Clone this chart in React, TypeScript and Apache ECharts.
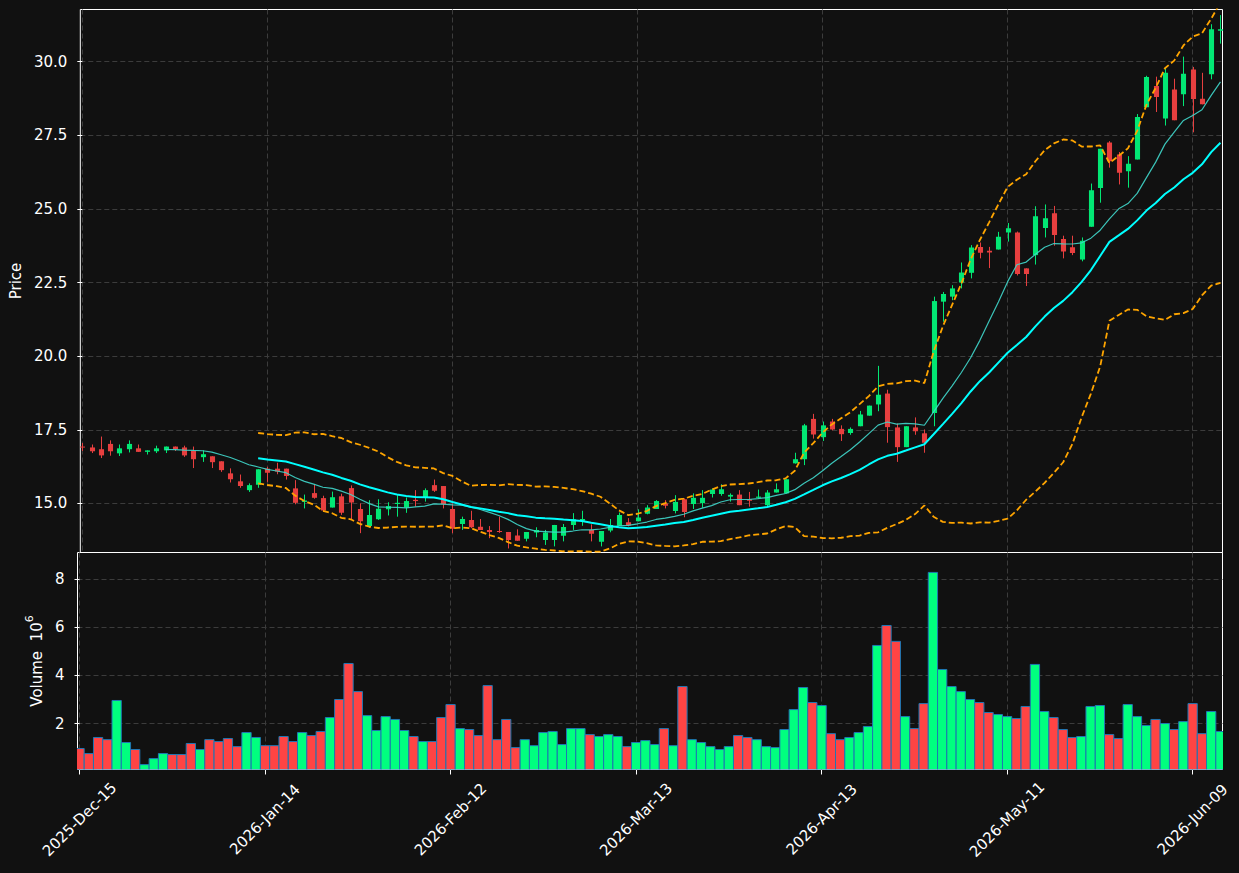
import React, { useEffect, useRef } from 'react';
import * as echarts from 'echarts';

// Trading days (NYSE calendar) shown on the x axis
const tradingDays: string[] = [
  '2025-12-15', '2025-12-16', '2025-12-17', '2025-12-18', '2025-12-19', '2025-12-22', '2025-12-23', '2025-12-24', '2025-12-26', '2025-12-29', '2025-12-30', '2025-12-31',
  '2026-01-02', '2026-01-05', '2026-01-06', '2026-01-07', '2026-01-08', '2026-01-09', '2026-01-12', '2026-01-13', '2026-01-14', '2026-01-15', '2026-01-16', '2026-01-20', '2026-01-21', '2026-01-22', '2026-01-23', '2026-01-26', '2026-01-27', '2026-01-28', '2026-01-29', '2026-01-30',
  '2026-02-02', '2026-02-03', '2026-02-04', '2026-02-05', '2026-02-06', '2026-02-09', '2026-02-10', '2026-02-11', '2026-02-12', '2026-02-13', '2026-02-17', '2026-02-18', '2026-02-19', '2026-02-20', '2026-02-23', '2026-02-24', '2026-02-25', '2026-02-26', '2026-02-27',
  '2026-03-02', '2026-03-03', '2026-03-04', '2026-03-05', '2026-03-06', '2026-03-09', '2026-03-10', '2026-03-11', '2026-03-12', '2026-03-13', '2026-03-16', '2026-03-17', '2026-03-18', '2026-03-19', '2026-03-20', '2026-03-23', '2026-03-24', '2026-03-25', '2026-03-26', '2026-03-27', '2026-03-30', '2026-03-31',
  '2026-04-01', '2026-04-02', '2026-04-06', '2026-04-07', '2026-04-08', '2026-04-09', '2026-04-10', '2026-04-13', '2026-04-14', '2026-04-15', '2026-04-16', '2026-04-17', '2026-04-20', '2026-04-21', '2026-04-22', '2026-04-23', '2026-04-24', '2026-04-27', '2026-04-28', '2026-04-29', '2026-04-30',
  '2026-05-01', '2026-05-04', '2026-05-05', '2026-05-06', '2026-05-07', '2026-05-08', '2026-05-11', '2026-05-12', '2026-05-13', '2026-05-14', '2026-05-15', '2026-05-18', '2026-05-19', '2026-05-20', '2026-05-21', '2026-05-22', '2026-05-26', '2026-05-27', '2026-05-28', '2026-05-29',
  '2026-06-01', '2026-06-02', '2026-06-03', '2026-06-04', '2026-06-05', '2026-06-08', '2026-06-09', '2026-06-10', '2026-06-11', '2026-06-12',
];

const openPrices: number[] = [
  16.93, 16.90, 16.84, 17.02, 16.70, 16.84, 16.87, 16.75, 16.77, 16.80,
  16.93, 16.90, 16.79, 16.57, 16.60, 16.43, 16.02, 15.75, 15.45, 15.63,
  16.18, 16.18, 16.18, 15.51, 15.05, 15.35, 15.18, 14.86, 15.24, 15.52,
  14.81, 14.23, 14.46, 14.80, 14.98, 14.86, 15.12, 15.20, 15.62, 15.59,
  14.81, 14.30, 14.44, 14.21, 14.10, 14.06, 14.03, 13.91, 13.80, 14.01,
  13.76, 13.76, 13.90, 14.27, 14.41, 14.10, 13.70, 14.08, 14.24, 14.36,
  14.39, 14.65, 14.81, 15.00, 14.74, 15.14, 14.98, 15.01, 15.32, 15.32,
  15.23, 15.30, 15.14, 15.19, 14.94, 15.37, 15.34, 16.36, 16.50, 17.87,
  17.25, 17.78, 17.53, 17.39, 17.62, 17.98, 18.36, 18.73, 17.58, 16.91,
  17.58, 17.38, 18.07, 21.85, 22.02, 22.50, 22.83, 23.71, 23.58, 23.62,
  24.20, 24.20, 22.98, 23.43, 24.35, 24.85, 23.98, 23.70, 23.28, 24.39,
  25.71, 27.25, 26.85, 26.28, 26.68, 28.45, 29.17, 28.07, 29.05, 28.89,
  29.73, 28.74, 29.57, 31.05,
];
const highPrices: number[] = [
  17.05, 17.00, 17.27, 17.14, 17.00, 17.14, 17.00, 16.80, 16.96, 16.93,
  16.93, 16.96, 16.93, 16.80, 16.60, 16.43, 16.19, 15.98, 15.68, 16.16,
  16.24, 16.38, 16.18, 15.79, 15.30, 15.65, 15.26, 15.40, 15.33, 15.61,
  15.00, 15.11, 15.14, 15.04, 15.28, 15.20, 15.45, 15.51, 15.81, 15.59,
  15.00, 14.55, 14.75, 14.47, 14.23, 14.55, 14.03, 14.12, 14.03, 14.19,
  14.10, 14.27, 14.30, 14.67, 14.75, 14.29, 14.06, 14.47, 14.69, 14.50,
  14.80, 14.94, 15.11, 15.11, 15.28, 15.17, 15.34, 15.45, 15.51, 15.65,
  15.34, 15.45, 15.39, 15.47, 15.45, 15.68, 15.82, 16.72, 17.70, 18.04,
  17.78, 17.87, 17.65, 17.58, 18.14, 18.32, 19.67, 18.86, 17.71, 17.62,
  17.92, 17.51, 22.02, 22.18, 22.41, 23.18, 23.77, 23.86, 23.71, 24.22,
  24.52, 24.23, 22.98, 25.09, 25.15, 25.10, 24.09, 24.09, 24.03, 25.86,
  27.04, 27.30, 26.93, 26.79, 28.22, 29.52, 29.49, 29.80, 29.42, 30.17,
  29.82, 29.62, 31.27, 31.58,
];
const lowPrices: number[] = [
  16.78, 16.71, 16.54, 16.62, 16.61, 16.73, 16.75, 16.66, 16.71, 16.71,
  16.78, 16.58, 16.20, 16.41, 16.20, 16.07, 15.71, 15.53, 15.39, 15.53,
  15.73, 15.99, 15.81, 14.97, 14.83, 15.16, 14.72, 14.86, 14.61, 14.47,
  13.99, 14.17, 14.44, 14.59, 14.55, 14.68, 14.89, 15.06, 15.39, 14.83,
  13.99, 14.10, 14.16, 14.10, 13.82, 14.00, 13.47, 13.73, 13.71, 13.85,
  13.59, 13.54, 13.71, 14.10, 14.24, 13.71, 13.54, 14.02, 14.24, 14.22,
  14.39, 14.63, 14.81, 14.83, 14.66, 14.53, 14.81, 14.85, 15.20, 15.26,
  15.06, 14.94, 14.89, 15.18, 14.89, 15.37, 15.34, 16.35, 16.30, 17.20,
  17.12, 17.48, 17.12, 17.33, 17.62, 17.98, 18.13, 17.06, 16.41, 16.91,
  17.33, 16.72, 17.62, 21.17, 21.90, 22.30, 22.64, 23.32, 22.99, 23.62,
  23.89, 22.74, 22.38, 23.11, 24.03, 23.75, 23.32, 23.43, 23.22, 24.39,
  25.21, 26.40, 25.83, 25.72, 26.68, 28.45, 28.29, 27.83, 28.01, 28.49,
  27.60, 28.55, 29.40, 30.61,
];
const closePrices: number[] = [
  16.90, 16.77, 16.63, 16.77, 16.87, 17.02, 16.75, 16.80, 16.87, 16.93,
  16.84, 16.63, 16.50, 16.67, 16.40, 16.13, 15.82, 15.59, 15.62, 16.16,
  16.04, 16.08, 15.93, 15.02, 15.10, 15.19, 14.76, 15.21, 14.68, 15.03,
  14.39, 14.61, 14.82, 14.91, 15.02, 15.08, 15.08, 15.45, 15.43, 14.97,
  14.14, 14.47, 14.19, 14.10, 14.03, 14.03, 13.76, 13.73, 14.03, 14.10,
  14.01, 14.27, 14.20, 14.46, 14.47, 13.97, 14.06, 14.27, 14.61, 14.25,
  14.52, 14.86, 15.08, 14.92, 15.05, 14.71, 15.19, 15.19, 15.47, 15.48,
  15.29, 14.94, 15.09, 15.23, 15.37, 15.48, 15.82, 16.50, 17.65, 17.34,
  17.65, 17.51, 17.35, 17.53, 18.02, 18.32, 18.69, 17.59, 16.91, 17.62,
  17.45, 17.06, 21.87, 22.11, 22.30, 22.84, 23.69, 23.51, 23.52, 24.05,
  24.34, 22.79, 22.79, 24.75, 24.68, 24.11, 23.55, 23.50, 23.92, 25.63,
  27.04, 26.62, 26.23, 26.53, 28.12, 29.48, 28.80, 29.62, 28.01, 29.59,
  28.73, 28.55, 31.10, 31.10,
];
// Volume in millions of shares
const volumeMillions: number[] = [
  0.96, 0.75, 1.42, 1.33, 2.96, 1.21, 0.92, 0.29, 0.54, 0.75,
  0.71, 0.71, 1.17, 0.92, 1.33, 1.25, 1.375, 1.04, 1.625, 1.42,
  1.08, 1.08, 1.46, 1.25, 1.625, 1.5, 1.67, 2.25, 3.0, 4.5,
  3.33, 2.33, 1.71, 2.29, 2.17, 1.71, 1.46, 1.25, 1.25, 2.25,
  2.79, 1.79, 1.75, 1.5, 3.58, 1.33, 2.17, 1.0, 1.33, 1.08,
  1.625, 1.67, 1.125, 1.79, 1.79, 1.54, 1.46, 1.54, 1.46, 1.04,
  1.21, 1.29, 1.125, 1.79, 1.08, 3.54, 1.33, 1.21, 1.04, 0.92,
  1.04, 1.5, 1.42, 1.33, 1.04, 1.0, 1.75, 2.58, 3.5, 2.875,
  2.75, 1.58, 1.33, 1.42, 1.625, 1.875, 5.25, 6.08, 5.42, 2.29,
  1.79, 2.83, 8.29, 4.25, 3.54, 3.33, 3.0, 2.875, 2.46, 2.375,
  2.29, 2.21, 2.71, 4.46, 2.5, 2.25, 1.75, 1.42, 1.46, 2.71,
  2.75, 1.54, 1.375, 2.79, 2.29, 1.92, 2.17, 2.0, 1.75, 2.08,
  2.83, 1.58, 2.5, 1.67,
];

const priceTicks: number[] = [15, 17.5, 20, 22.5, 25, 27.5, 30];
const volumeTicks: number[] = [2, 4, 6, 8];
const dateTickIndices: number[] = [0, 20, 40, 60, 80, 100, 120];
const monthNames = ['Jan', 'Feb', 'Mar', 'Apr', 'May', 'Jun', 'Jul', 'Aug', 'Sep', 'Oct', 'Nov', 'Dec'];

const UP_CANDLE = '#02e774';
const DOWN_CANDLE = '#e73f3f';
const UP_VOL = '#00ff7f';
const DOWN_VOL = '#ff4444';
const VOL_EDGE = '#1f77b4';
const GRID_COLOR = '#3c3c3c';
const TEXT_COLOR = '#ffffff';
const FONT = 'DejaVu Sans';

function movingAverage(values: number[], n: number): number[][] {
  const out: number[][] = [];
  for (let i = n - 1; i < values.length; i++) {
    let s = 0;
    for (let j = i - n + 1; j <= i; j++) s += values[j];
    out.push([i, s / n]);
  }
  return out;
}

function bollinger(values: number[], n: number, k: number, sign: number): number[][] {
  const out: number[][] = [];
  for (let i = n - 1; i < values.length; i++) {
    let s = 0;
    for (let j = i - n + 1; j <= i; j++) s += values[j];
    const m = s / n;
    let v = 0;
    for (let j = i - n + 1; j <= i; j++) v += (values[j] - m) * (values[j] - m);
    const sd = Math.sqrt(v / n);
    out.push([i, m + sign * k * sd]);
  }
  return out;
}

function formatDate(idx: number): string {
  const d = tradingDays[Math.round(idx)];
  if (!d) return '';
  const [y, m, dd] = d.split('-');
  return `${y}-${monthNames[parseInt(m, 10) - 1]}-${dd}`;
}

const X_MIN = -0.22;
const X_MAX = 123.22;
const PRICE_MIN = 13.333;
const PRICE_MAX = 31.77;

export default function App() {
  const ref = useRef<HTMLDivElement>(null);

  useEffect(() => {
    if (!ref.current) return;
    document.body.style.margin = '0';
    document.body.style.background = '#111111';
    const chart = echarts.init(ref.current, undefined, { renderer: 'svg' });

    const candleData = closePrices.map((c, i) => [i, openPrices[i], c, lowPrices[i], highPrices[i]]);
    const volData = volumeMillions.map((v, i) => [i, v, closePrices[i] >= openPrices[i] ? 1 : 0]);
    const volMin = 0.3 * Math.min(...volumeMillions);
    const volMax = 1.1 * Math.max(...volumeMillions);

    const axisLabelBase = { color: TEXT_COLOR, fontSize: 15, fontFamily: FONT };
    const splitLineStyle = { show: true, lineStyle: { color: GRID_COLOR, type: [5, 3] as any, width: 1 } };

    const option: any = {
      animation: false,
      backgroundColor: '#111111',
      textStyle: { fontFamily: FONT },
      grid: [
        { left: 77.5, right: 16.5, top: 9.5, height: 543, show: true, borderColor: '#ffffff', borderWidth: 1, backgroundColor: 'transparent' },
        { left: 77.5, right: 16.5, top: 552.5, height: 217, show: true, borderColor: '#ffffff', borderWidth: 1, backgroundColor: 'transparent' },
      ],
      xAxis: [
        {
          type: 'value', gridIndex: 0, min: X_MIN, max: X_MAX,
          axisLine: { show: false },
          axisTick: { show: false, customValues: dateTickIndices },
          axisLabel: { show: false, customValues: dateTickIndices },
          splitLine: splitLineStyle,
        },
        {
          type: 'value', gridIndex: 1, min: X_MIN, max: X_MAX,
          axisLine: { show: false },
          axisTick: { show: true, customValues: dateTickIndices, length: 5, lineStyle: { color: '#ffffff' } },
          axisLabel: {
            ...axisLabelBase,
            customValues: dateTickIndices,
            rotate: 45,
            align: 'center',
            verticalAlign: 'middle',
            margin: 50,
            formatter: (v: number) => formatDate(v),
          },
          splitLine: splitLineStyle,
        },
      ],
      yAxis: [
        {
          type: 'value', gridIndex: 0, min: PRICE_MIN, max: PRICE_MAX, position: 'left',
          name: 'Price', nameLocation: 'middle', nameGap: 50,
          nameTextStyle: { color: TEXT_COLOR, fontSize: 15, fontFamily: FONT },
          axisLine: { show: false },
          axisTick: { show: true, customValues: priceTicks, length: 5, lineStyle: { color: '#ffffff' } },
          axisLabel: { ...axisLabelBase, customValues: priceTicks, margin: 13, formatter: (v: number) => v.toFixed(1) },
          splitLine: splitLineStyle,
        },
        {
          type: 'value', gridIndex: 1, min: volMin, max: volMax, position: 'left',
          name: '{n|Volume  10}{s|6}', nameLocation: 'middle', nameGap: 27,
          nameTextStyle: {
            color: TEXT_COLOR, fontSize: 15, fontFamily: FONT,
            rich: {
              n: { color: TEXT_COLOR, fontSize: 15, fontFamily: FONT, lineHeight: 20, verticalAlign: 'bottom' },
              s: { color: TEXT_COLOR, fontSize: 11, fontFamily: FONT, lineHeight: 20, verticalAlign: 'top' },
            },
          },
          axisLine: { show: false },
          axisTick: { show: true, customValues: volumeTicks, length: 5, lineStyle: { color: '#ffffff' } },
          axisLabel: { ...axisLabelBase, customValues: volumeTicks, margin: 13, formatter: (v: number) => String(Math.round(v)) },
          splitLine: splitLineStyle,
        },
      ],
      series: [
        {
          type: 'custom', name: 'Candles', xAxisIndex: 0, yAxisIndex: 0, clip: true, z: 2,
          data: candleData,
          encode: { x: 0, y: [1, 2, 3, 4] },
          renderItem: (params: any, api: any) => {
            const x = api.value(0);
            const o = api.value(1), c = api.value(2), l = api.value(3), h = api.value(4);
            const pO = api.coord([x, o]);
            const pC = api.coord([x, c]);
            const pL = api.coord([x, l]);
            const pH = api.coord([x, h]);
            const w = api.size([0.55, 0])[0];
            const color = c >= o ? UP_CANDLE : DOWN_CANDLE;
            const cx = Math.round(pO[0]) + 0.5;
            const top = Math.min(pO[1], pC[1]);
            const hgt = Math.max(Math.abs(pO[1] - pC[1]), 1);
            return {
              type: 'group',
              children: [
                { type: 'line', shape: { x1: cx, y1: pH[1], x2: cx, y2: pL[1] }, style: { stroke: color, lineWidth: 1 } },
                { type: 'rect', shape: { x: cx - w / 2, y: top, width: w, height: hgt }, style: { fill: color } },
              ],
            };
          },
        },
        {
          type: 'custom', name: 'Volume', xAxisIndex: 1, yAxisIndex: 1, clip: true, z: 2,
          data: volData,
          encode: { x: 0, y: 1 },
          renderItem: (params: any, api: any) => {
            const x = api.value(0);
            const v = api.value(1);
            const up = api.value(2) === 1;
            const pL = api.coord([x - 0.5, v]);
            const pR = api.coord([x + 0.5, volMin]);
            return {
              type: 'rect',
              shape: { x: pL[0], y: pL[1], width: pR[0] - pL[0], height: pR[1] - pL[1] },
              style: { fill: up ? UP_VOL : DOWN_VOL, stroke: VOL_EDGE, lineWidth: 1 },
            };
          },
        },
        {
          type: 'line', name: 'MA10', xAxisIndex: 0, yAxisIndex: 0, data: movingAverage(closePrices, 10),
          showSymbol: false, symbol: 'none', z: 3,
          lineStyle: { color: '#40d8cc', width: 1.2, opacity: 0.9 },
        },
        {
          type: 'line', name: 'MA20', xAxisIndex: 0, yAxisIndex: 0, data: movingAverage(closePrices, 20),
          showSymbol: false, symbol: 'none', z: 3,
          lineStyle: { color: '#00ffff', width: 2 },
        },
        {
          type: 'line', name: 'BB Upper', xAxisIndex: 0, yAxisIndex: 0, data: bollinger(closePrices, 20, 2, 1),
          showSymbol: false, symbol: 'none', z: 4,
          lineStyle: { color: '#ffa500', width: 1.8, type: [6, 3] },
        },
        {
          type: 'line', name: 'BB Lower', xAxisIndex: 0, yAxisIndex: 0, data: bollinger(closePrices, 20, 2, -1),
          showSymbol: false, symbol: 'none', z: 4,
          lineStyle: { color: '#ffa500', width: 1.8, type: [6, 3] },
        },
      ],
    };

    chart.setOption(option);
    return () => chart.dispose();
  }, []);

  return (
    <div
      ref={ref}
      style={{ position: 'fixed', left: 0, top: 0, width: 1239, height: 873, background: '#111111' }}
    />
  );
}
